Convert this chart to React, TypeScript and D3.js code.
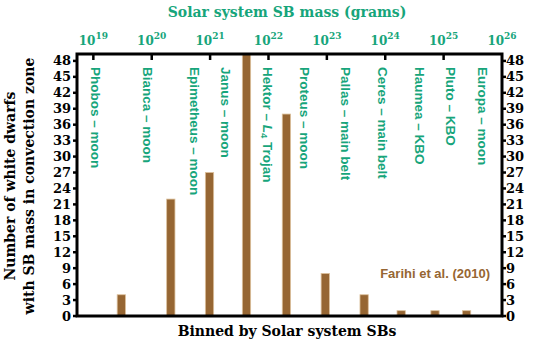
import React from "react";
import * as d3 from "d3";

// Solar system bodies used as bin edges (mass in grams)
const bodies = [
  "Phobos – moon",
  "Bianca – moon",
  "Epimetheus – moon",
  "Janus – moon",
  "Hektor",
  "Proteus – moon",
  "Pallas – main belt",
  "Ceres – main belt",
  "Haumea – KBO",
  "Pluto – KBO",
  "Europa – moon"
];
const masses = [1.07e19, 8.5e19, 5.3e20, 1.8e21, 9.8e21, 4.2e22, 2.1e23, 9.0e23, 3.9e24, 1.3e25, 4.7e25];
// number of white dwarfs per bin (between consecutive bodies)
const counts = [4, 22, 27, 50, 38, 8, 4, 1, 1, 1];
const yTicks = d3.range(0, 49, 3);
const massExponents = [19, 20, 21, 22, 23, 24, 25, 26];

const W = 554;
const H = 347;
const frame = { left: 77, right: 502, top: 54, bottom: 316 };
const green = "#17a57b";
const brown = "#966633";
const serif = "'DejaVu Serif', serif";
const sans = "'Liberation Sans', Arial, sans-serif";

const App = () => {
  const x = d3
    .scaleLog()
    .domain([Math.pow(10, 18.72), 1e26])
    .range([frame.left, frame.right]);
  const y = d3
    .scaleLinear()
    .domain([0, 49.3])
    .range([frame.bottom, frame.top]);
  const bins = counts.map((c, i) => ({
    center: Math.sqrt(masses[i] * masses[i + 1]),
    count: c
  }));
  const barW = 8.3;

  return (
    <svg width={W} height={H} style={{ position: "absolute", left: 0, top: 0, background: "#fff" }}>
      <defs>
        <clipPath id="plot">
          <rect x={frame.left} y={frame.top} width={frame.right - frame.left} height={frame.bottom - frame.top} />
        </clipPath>
      </defs>

      {/* bars */}
      <g clipPath="url(#plot)">
        {bins.map((b, i) => (
          <rect
            key={i}
            x={x(b.center) - barW / 2}
            y={y(b.count)}
            width={barW}
            height={y(0) - y(b.count)}
            fill={brown}
            stroke="#dcc09c"
            strokeWidth={0.8}
          />
        ))}
      </g>

      {/* body labels */}
      {bodies.map((name, i) => (
        <text
          key={name}
          transform={`translate(${x(masses[i])},67) rotate(90)`}
          fill={green}
          fontFamily={sans}
          fontWeight="bold"
          fontSize={13.5}
          dominantBaseline="central"
        >
          {name === "Hektor" ? (
            <>
              {"Hektor – "}
              <tspan fontStyle="italic">L</tspan>
              <tspan fontSize={9.5} dy={3}>4</tspan>
              <tspan dy={-3}>{" Trojan"}</tspan>
            </>
          ) : (
            name
          )}
        </text>
      ))}

      {/* frame */}
      <rect
        x={frame.left}
        y={frame.top}
        width={frame.right - frame.left}
        height={frame.bottom - frame.top}
        fill="none"
        stroke="#000"
        strokeWidth={3}
      />

      {/* y ticks both sides */}
      {yTicks.map(t => (
        <g key={t}>
          <line x1={frame.left - 4} x2={frame.left} y1={y(t)} y2={y(t)} stroke="#000" strokeWidth={2.5} />
          <line x1={frame.right} x2={frame.right + 4} y1={y(t)} y2={y(t)} stroke="#000" strokeWidth={2.5} />
          <text
            x={71}
            y={y(t)}
            textAnchor="end"
            dominantBaseline="central"
            fontFamily={serif}
            fontWeight="bold"
            fontSize={13}
          >
            {t}
          </text>
          <text
            x={506}
            y={y(t)}
            textAnchor="start"
            dominantBaseline="central"
            fontFamily={serif}
            fontWeight="bold"
            fontSize={13}
          >
            {t}
          </text>
        </g>
      ))}

      {/* top mass axis */}
      {massExponents.map(e => (
        <g key={e}>
          {e < 26 && (
            <line x1={x(Math.pow(10, e))} x2={x(Math.pow(10, e))} y1={frame.top} y2={frame.top + 6} stroke="#000" strokeWidth={2.5} />
          )}
          <text
            x={x(Math.pow(10, e))}
            y={45}
            textAnchor="middle"
            fontFamily={serif}
            fontWeight="bold"
            fontSize={12}
            fill={green}
          >
            10
            <tspan fontSize={9} dy={-6}>{e}</tspan>
          </text>
        </g>
      ))}
      <text x={287} y={17} textAnchor="middle" fontFamily={serif} fontWeight="bold" fontSize={14} fill={green}>
        Solar system SB mass (grams)
      </text>

      {/* axis titles */}
      <text x={287} y={336} textAnchor="middle" fontFamily={serif} fontWeight="bold" fontSize={14}>
        Binned by Solar system SBs
      </text>
      <text
        transform="translate(15,186) rotate(-90)"
        textAnchor="middle"
        fontFamily={serif}
        fontWeight="bold"
        fontSize={14}
      >
        Number of white dwarfs
      </text>
      <text
        transform="translate(34,186) rotate(-90)"
        textAnchor="middle"
        fontFamily={serif}
        fontWeight="bold"
        fontSize={14}
      >
        with SB mass in convection zone
      </text>

      <text x={490} y={278} textAnchor="end" fontFamily={sans} fontWeight="bold" fontSize={13} fill={brown}>
        Farihi et al. (2010)
      </text>
    </svg>
  );
};

export default App;
